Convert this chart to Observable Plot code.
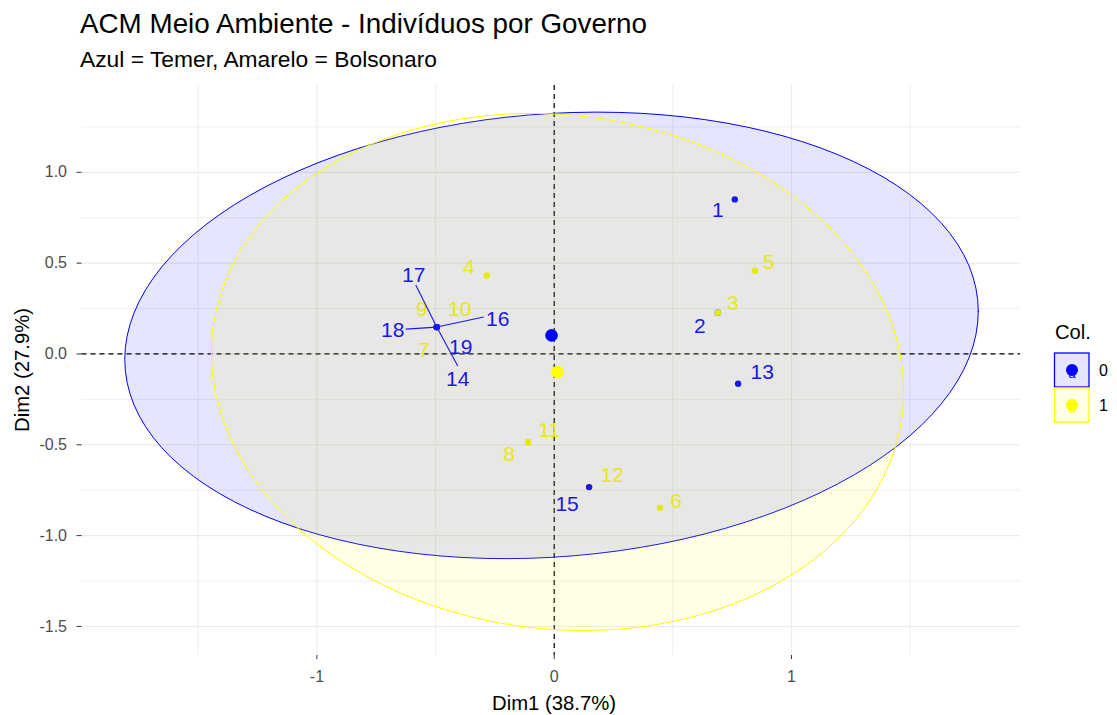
<!DOCTYPE html>
<html><head><meta charset="utf-8">
<script src="https://cdn.jsdelivr.net/npm/d3@7"></script>
<script src="https://cdn.jsdelivr.net/npm/@observablehq/plot@0.6"></script>
<style>
html,body{margin:0;padding:0;background:#fff;}
#wrap{position:relative;width:1117px;height:715px;font-family:"Liberation Sans",Arial,sans-serif;}
#wrap svg{position:absolute;left:0;top:0;}
</style></head><body><div id="wrap"></div>
<script>
// ---- data ----
const ids  = ["1","2","3","4","5","6","7","8","9","10","11","12","13","14","15","16","17","18","19"];
const dim1 = [0.761, 0.690, 0.690, -0.284, 0.846, 0.446, -0.495, -0.110, -0.495, -0.495, -0.110, 0.147, 0.775, -0.495, 0.147, -0.495, -0.495, -0.495, -0.495];
const dim2 = [0.851, 0.227, 0.227, 0.432, 0.458, -0.847, 0.148, -0.486, 0.148, 0.148, -0.486, -0.733, -0.164, 0.148, -0.733, 0.148, 0.148, 0.148, 0.148];
const col  = ["0","0","1","1","1","1","1","1","1","1","1","1","0","0","0","0","0","0","0"];
const groups = ["0","1"];
const groupColors = ["#0000FF","#FFFF00"];
const xTicks = [-1, 0, 1];
const yTicks = [-1.5, -1.0, -0.5, 0.0, 0.5, 1.0];
const titleText = "ACM Meio Ambiente - Indivíduos por Governo";
const subtitleText = "Azul = Temer, Amarelo = Bolsonaro";
const xTitle = "Dim1 (38.7%)";
const yTitle = "Dim2 (27.9%)";
const legendTitle = "Col.";

// ---- layout (repelled label offsets in px, label connector ends in px) ----
const labelDx = [-17,-18,15,-18,14,16,-13,-19,-15,23,21,23,24,21,-22,61,-23,-44,24];
const labelDy = [11,14,-9,-8,-9,-7,23,12,-18,-18,-12,-12,-11,52,17,-8,-52,3,20];
const segEnds = {"14":[21,39], "16":[47,-10], "17":[-21,-42], "18":[-31,2]};

const W = 1117, H = 715;
const M = {left: 81.5, right: 97, top: 85, bottom: 60};
const xDomain = [-1.99, 1.965], yDomain = [-1.66, 1.478];
const sx = d3.scaleLinear(xDomain, [M.left, W - M.right]);
const sy = d3.scaleLinear(yDomain, [H - M.bottom, M.top]);
const FONT = '"Liberation Sans", Arial, sans-serif';

const inds = ids.map((id, i) => ({id, x: dim1[i], y: dim2[i], g: col[i], dx: labelDx[i], dy: labelDy[i]}));
const segs = inds.filter(d => segEnds[d.id]).map(d => ({...d, sdx: segEnds[d.id][0], sdy: segEnds[d.id][1]}));

// 95% normal confidence ellipse (as ggplot2 stat_ellipse type = "norm")
function qf2(p, d) { return d / 2 * (Math.pow(1 - p, -2 / d) - 1); }
function ellipse(g) {
  const pts = inds.filter(d => d.g === g);
  const n = pts.length;
  const mx = d3.mean(pts, d => d.x), my = d3.mean(pts, d => d.y);
  let sxx = 0, syy = 0, sxy = 0;
  for (const p of pts) { sxx += (p.x - mx) ** 2; syy += (p.y - my) ** 2; sxy += (p.x - mx) * (p.y - my); }
  sxx /= n - 1; syy /= n - 1; sxy /= n - 1;
  const r = Math.sqrt(2 * qf2(0.95, n - 1));
  const a = Math.sqrt(sxx), b = sxy / a, c = Math.sqrt(syy - b * b);
  const seg = 120;
  return d3.range(seg + 1).map(k => {
    const t = 2 * Math.PI * k / seg;
    return {g, x: mx + r * Math.cos(t) * a, y: my + r * (Math.cos(t) * b + Math.sin(t) * c)};
  });
}
const means = groups.map(g => {
  const pts = inds.filter(d => d.g === g);
  return {g, x: d3.mean(pts, d => d.x), y: d3.mean(pts, d => d.y)};
});
const minorX = [-1.5, -0.5, 0.5, 1.5];
const minorY = [-1.25, -0.75, -0.25, 0.25, 0.75, 1.25];

const colorScale = {domain: groups, range: groupColors};

const labelMarks = inds.map(d => Plot.text([d], {
  x: "x", y: "y", text: "id", fill: "g", dx: d.dx, dy: d.dy,
  fontSize: 21, textAnchor: "middle", lineAnchor: "middle"
}));

const chart = Plot.plot({
  width: W, height: H,
  marginLeft: M.left, marginRight: M.right, marginTop: M.top, marginBottom: M.bottom,
  x: {domain: xDomain},
  y: {domain: yDomain},
  color: colorScale,
  style: {fontFamily: FONT, background: "transparent", overflow: "visible"},
  marks: [
    Plot.gridX({ticks: minorX, stroke: "#ebebeb", strokeOpacity: 1, strokeWidth: 0.8}),
    Plot.gridY({ticks: minorY, stroke: "#ebebeb", strokeOpacity: 1, strokeWidth: 0.8}),
    Plot.gridX({ticks: xTicks, stroke: "#ebebeb", strokeOpacity: 1, strokeWidth: 1.1}),
    Plot.gridY({ticks: yTicks, stroke: "#ebebeb", strokeOpacity: 1, strokeWidth: 1.1}),
    Plot.ruleX([0], {stroke: "#000", strokeWidth: 1.2, strokeDasharray: "5,4"}),
    Plot.ruleY([0], {stroke: "#000", strokeWidth: 1.2, strokeDasharray: "5,4"}),
    Plot.dot(inds, {x: "x", y: "y", fill: "g", r: 3.2}),
    ...labelMarks,
    Plot.link(segs, {
      x1: "x", y1: "y",
      x2: d => sx.invert(sx(d.x) + d.sdx), y2: d => sy.invert(sy(d.y) + d.sdy),
      stroke: "g", strokeWidth: 1.1
    }),
    ...groups.map(g => Plot.line(ellipse(g), {x: "x", y: "y", stroke: "g", fill: "g", fillOpacity: 0.1, strokeWidth: 1, curve: "linear-closed"})),
    Plot.dot(means, {x: "x", y: "y", fill: "g", r: 6.3}),
    Plot.axisX({ticks: xTicks, tickFormat: d => String(d), tickSize: 4, tickPadding: 11, fontSize: 16, fill: "#4d4d4d", stroke: "#333", label: null}),
    Plot.axisY({ticks: yTicks, tickFormat: d => d.toFixed(1), tickSize: 5, tickPadding: 10, fontSize: 16, fill: "#4d4d4d", stroke: "#333", label: null})
  ]
});
const wrap = document.getElementById("wrap");
wrap.appendChild(chart);

// overlay: titles, axis titles, legend
const ov = d3.select(wrap).append("svg")
  .attr("width", W).attr("height", H)
  .style("font-family", FONT).style("pointer-events", "none");
ov.append("text").attr("x", 80).attr("y", 33).attr("font-size", 27.8).attr("fill", "#000").text(titleText);
ov.append("text").attr("x", 80).attr("y", 67).attr("font-size", 22.8).attr("fill", "#000").text(subtitleText);
ov.append("text").attr("x", 554).attr("y", 710).attr("font-size", 20.3)
  .attr("text-anchor", "middle").attr("fill", "#000").text(xTitle);
ov.append("text").attr("transform", `translate(29,${(M.top + H - M.bottom) / 2}) rotate(-90)`)
  .attr("font-size", 20.3).attr("text-anchor", "middle").attr("fill", "#000").text(yTitle);

const lg = ov.append("g");
lg.append("text").attr("x", 1055).attr("y", 338.5).attr("font-size", 20.2).attr("fill", "#000").text(legendTitle);
groups.forEach((g, i) => {
  const y0 = 353 + i * 35;
  const c = groupColors[i];
  lg.append("rect").attr("x", 1054.5).attr("y", y0).attr("width", 34.5).attr("height", 34)
    .attr("fill", c).attr("fill-opacity", 0.1).attr("stroke", c).attr("stroke-width", 1.3);
  lg.append("text").attr("x", 1072).attr("y", y0 + 25).attr("font-size", 13).attr("text-anchor", "middle")
    .attr("fill", c).text("a");
  lg.append("circle").attr("cx", 1072).attr("cy", y0 + 17).attr("r", 6).attr("fill", c);
  lg.append("text").attr("x", 1099).attr("y", y0 + 23).attr("font-size", 16).attr("fill", "#000").text(g);
});
</script></body></html>
